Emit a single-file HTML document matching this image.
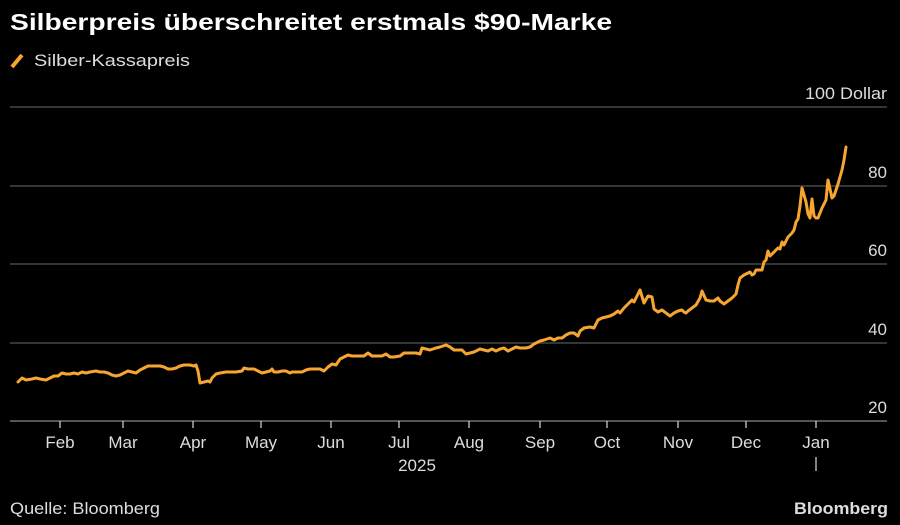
<!DOCTYPE html>
<html><head><meta charset="utf-8"><style>
html,body{margin:0;padding:0;background:#000;width:900px;height:525px;overflow:hidden}
body{font-family:"Liberation Sans",sans-serif;color:#fff}
</style></head><body>
<svg width="900" height="525" xmlns="http://www.w3.org/2000/svg" font-family="Liberation Sans, sans-serif">
<rect width="900" height="525" fill="#000"/>
<text x="10" y="30" font-size="23" font-weight="bold" fill="#fff" textLength="602" lengthAdjust="spacingAndGlyphs">Silberpreis überschreitet erstmals $90-Marke</text>
<line x1="12" y1="67" x2="22" y2="55" stroke="#f7a531" stroke-width="4"/>
<text x="34" y="66" font-size="17" fill="#ddd" textLength="156" lengthAdjust="spacingAndGlyphs">Silber-Kassapreis</text>
<g stroke="#555" stroke-width="1.3">
<line x1="10" y1="107" x2="887" y2="107"/>
<line x1="10" y1="186" x2="887" y2="186"/>
<line x1="10" y1="264" x2="887" y2="264"/>
<line x1="10" y1="343" x2="887" y2="343"/>
</g>
<line x1="10" y1="421" x2="887" y2="421" stroke="#888" stroke-width="1.3"/>
<g font-size="17" fill="#ddd" text-anchor="end">
<text x="887" y="99" textLength="82" lengthAdjust="spacingAndGlyphs">100 Dollar</text>
<text x="887" y="178">80</text>
<text x="887" y="256">60</text>
<text x="887" y="335">40</text>
<text x="887" y="413">20</text>
</g>
<g stroke="#ccc" stroke-width="1.3">
<line x1="60" y1="421" x2="60" y2="428"/><line x1="123" y1="421" x2="123" y2="428"/>
<line x1="193" y1="421" x2="193" y2="428"/><line x1="261" y1="421" x2="261" y2="428"/>
<line x1="331" y1="421" x2="331" y2="428"/><line x1="399" y1="421" x2="399" y2="428"/>
<line x1="469" y1="421" x2="469" y2="428"/><line x1="540" y1="421" x2="540" y2="428"/>
<line x1="607" y1="421" x2="607" y2="428"/><line x1="678" y1="421" x2="678" y2="428"/>
<line x1="746" y1="421" x2="746" y2="428"/><line x1="816" y1="421" x2="816" y2="428"/>
<line x1="816" y1="457" x2="816" y2="471"/>
</g>
<g font-size="17" fill="#ddd" text-anchor="middle">
<text x="60" y="448">Feb</text><text x="123" y="448">Mar</text><text x="193" y="448">Apr</text>
<text x="261" y="448">May</text><text x="331" y="448">Jun</text><text x="399" y="448">Jul</text>
<text x="469" y="448">Aug</text><text x="540" y="448">Sep</text><text x="607" y="448">Oct</text>
<text x="678" y="448">Nov</text><text x="746" y="448">Dec</text><text x="816" y="448">Jan</text>
<text x="417" y="471">2025</text>
</g>
<polyline fill="none" stroke="#f7a531" stroke-width="3" stroke-linejoin="round" stroke-linecap="round" points="18,382 22,378 26,380 32,379 36,378 40,379 46,380 50,378 54,376 58,376 62,373 66,374 70,374 74,373 78,374 82,372 86,373 90,372 96,371 100,372 104,372 108,373 112,375 116,376 120,375 124,373 128,371 132,372 136,373 140,370 144,368 148,366 154,366 160,366 164,367 168,369 172,369 176,368 180,366 184,365 190,365 194,366 196,365 198,371 200,383 204,382 208,381 210,382 212,378 216,374 220,373 226,372 230,372 236,372 242,371 244,368 248,369 254,369 258,371 262,373 266,372 270,371 272,369 274,372 278,372 282,371 286,371 290,373 292,372 298,372 302,372 306,370 310,369 314,369 320,369 324,371 328,367 332,364 336,365 340,359 344,357 348,355 352,356 358,356 364,356 368,353 372,356 378,356 382,356 386,354 390,357 394,357 400,356 404,353 410,353 416,353 420,354 422,348 426,349 430,350 436,348 440,347 446,345 450,347 454,350 458,350 462,350 466,354 470,353 474,352 480,349 484,350 488,351 492,349 496,351 500,349 504,348 508,351 512,349 516,347 520,348 526,348 530,347 534,344 540,341 544,340 550,338 554,340 558,338 562,338 566,335 570,333 574,333 578,336 580,331 584,328 590,327 594,328 598,320 602,318 606,317 610,316 614,314 618,311 620,313 624,308 628,304 632,300 634,302 638,294 640,290 644,303 648,296 652,297 654,309 658,312 662,310 666,313 670,316 674,313 678,311 682,310 684,312 686,313 688,311 692,308 696,305 700,298 702,291 706,300 710,301 714,301 718,298 720,301 724,304 728,301 732,298 736,294 738,285 740,278 744,275 748,273 750,272 752,275 754,274 756,270 760,270 762,270 764,262 766,260 768,251 770,256 774,252 778,248 780,249 782,242 784,245 788,237 792,233 794,230 796,222 798,219 800,206 802,188 806,202 808,214 810,218 812,199 814,216 816,218 818,218 822,208 826,200 828,180 832,198 834,196 838,184 842,170 844,160 846,147"/>
<text x="10" y="514" font-size="17" fill="#ddd" textLength="150" lengthAdjust="spacingAndGlyphs">Quelle: Bloomberg</text>
<text x="888" y="514" font-size="17" font-weight="bold" fill="#ddd" text-anchor="end" textLength="94" lengthAdjust="spacingAndGlyphs">Bloomberg</text>
</svg>
</body></html>
